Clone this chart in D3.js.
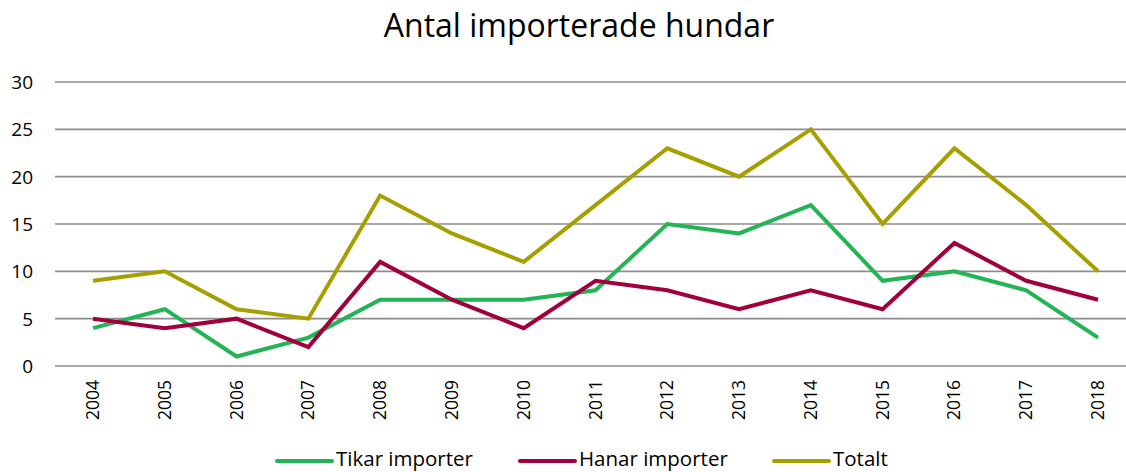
<!DOCTYPE html>
<html lang="sv">
<head>
<meta charset="utf-8">
<title>Antal importerade hundar</title>
<script src="https://d3js.org/d3.v7.min.js"></script>
<style>
  body { margin: 0; background: #fff; }
  svg { display: block; font-family: "Open Sans", "Noto Sans", sans-serif; }
</style>
</head>
<body>
<svg id="chart" width="1126" height="472"></svg>
<script>
const years = ["2004","2005","2006","2007","2008","2009","2010","2011","2012","2013","2014","2015","2016","2017","2018"];
const tikar = [4, 6, 1, 3, 7, 7, 7, 8, 15, 14, 17, 9, 10, 8, 3];
const hanar = [5, 4, 5, 2, 11, 7, 4, 9, 8, 6, 8, 6, 13, 9, 7];
const totalt = [9, 10, 6, 5, 18, 14, 11, 17, 23, 20, 25, 15, 23, 17, 10];
const yTicks = [0, 5, 10, 15, 20, 25, 30];

const series = [
  { name: "Tikar importer", values: tikar, color: "#22b455" },
  { name: "Hanar importer", values: hanar, color: "#a1003d" },
  { name: "Totalt", values: totalt, color: "#a5a000" }
];

const svg = d3.select("#chart");

const x = d3.scalePoint().domain(years).range([93, 1098]);
const y = d3.scaleLinear().domain([0, 30]).range([366, 82]);

// titel
svg.append("text")
  .attr("x", 579).attr("y", 37)
  .attr("text-anchor", "middle")
  .attr("font-size", 32)
  .attr("fill", "#000")
  .text("Antal importerade hundar");

// rutnät
svg.append("g").selectAll("line")
  .data(yTicks)
  .join("line")
  .attr("x1", 55).attr("x2", 1126)
  .attr("y1", d => y(d)).attr("y2", d => y(d))
  .attr("stroke", "#8c8c8c")
  .attr("stroke-width", 1.6);

// y-axel
svg.append("g").selectAll("text")
  .data(yTicks)
  .join("text")
  .attr("x", 33).attr("y", d => y(d) + 7)
  .attr("text-anchor", "end")
  .attr("font-size", 19)
  .attr("fill", "#000")
  .text(d => d);

// x-axel (roterade etiketter)
svg.append("g").selectAll("text")
  .data(years)
  .join("text")
  .attr("transform", d => `translate(${x(d) + 6}, 380) rotate(-90)`)
  .attr("text-anchor", "end")
  .attr("font-size", 17.5)
  .attr("fill", "#000")
  .text(d => d);

const line = d3.line()
  .x((d, i) => x(years[i]))
  .y(d => y(d));

svg.append("g").selectAll("path")
  .data(series)
  .join("path")
  .attr("d", d => line(d.values))
  .attr("fill", "none")
  .attr("stroke", d => d.color)
  .attr("stroke-width", 4)
  .attr("stroke-linejoin", "miter");

// förklaring
const legendX = [277, 520, 774];
const leg = svg.append("g").selectAll("g")
  .data(series)
  .join("g")
  .attr("transform", (d, i) => `translate(${legendX[i]}, 461)`);
leg.append("line")
  .attr("x1", 0).attr("x2", 55)
  .attr("y1", 0).attr("y2", 0)
  .attr("stroke", d => d.color)
  .attr("stroke-width", 4)
  .attr("stroke-linecap", "round");
leg.append("text")
  .attr("x", 59).attr("y", 5)
  .attr("font-size", 20.5)
  .attr("fill", "#000")
  .text(d => d.name);
</script>
</body>
</html>
